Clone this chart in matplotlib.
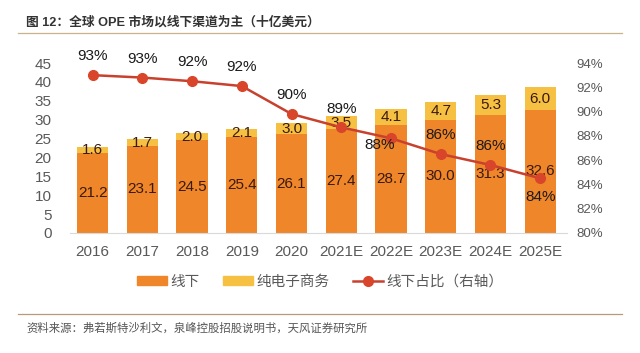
import matplotlib
matplotlib.use("Agg")
import matplotlib.pyplot as plt
from matplotlib.lines import Line2D
from matplotlib.patches import Patch

plt.rcParams['font.family'] = ['Liberation Sans', 'Noto Sans CJK SC', 'DejaVu Sans']

years = ["2016", "2017", "2018", "2019", "2020", "2021E", "2022E", "2023E", "2024E", "2025E"]
offline = [21.2, 23.1, 24.5, 25.4, 26.1, 27.4, 28.7, 30.0, 31.3, 32.6]
ecommerce = [1.6, 1.7, 2.0, 2.1, 3.0, 3.5, 4.1, 4.7, 5.3, 6.0]
share = [93.0, 92.8, 92.5, 92.1, 89.8, 88.7, 87.8, 86.5, 85.6, 84.5]
share_labels = ["93%", "93%", "92%", "92%", "90%", "89%", "88%", "86%", "86%", "84%"]

c_off = "#F0862A"
c_ec = "#F6C143"
c_line = "#C8412E"
c_mark = "#D9452B"
c_txt = "#3A1A10"
c_tick = "#595959"

fig = plt.figure(figsize=(6.4, 3.53), dpi=100)
ax = fig.add_axes([0.109, 0.34, 0.777, 0.4815])
x = list(range(len(years)))
ax.bar(x, offline, width=0.63, color=c_off, zorder=2)
ax.bar(x, ecommerce, width=0.63, bottom=offline, color=c_ec, zorder=2)
ax.set_ylim(0, 45)
ax.set_yticks(range(0, 46, 5))
ax.set_xlim(-0.46, 9.54)
ax.set_xticks(x)
ax.set_xticklabels(years)
for s in ["top", "right", "left"]:
    ax.spines[s].set_visible(False)
ax.spines["bottom"].set_color("#d9d9d9")
ax.tick_params(axis="both", length=0, colors=c_tick, labelsize=11)
ax.tick_params(axis="x", pad=9)
ax.tick_params(axis="y", pad=13)

for i in x:
    ax.text(i, offline[i] / 2, f"{offline[i]:.1f}", ha="center", va="center",
            fontsize=11, color=c_txt, zorder=5)
    ax.text(i, offline[i] + ecommerce[i] / 2, f"{ecommerce[i]:.1f}", ha="center",
            va="center", fontsize=11, color=c_txt, zorder=5)

ax2 = ax.twinx()
ax2.plot(x, share, color=c_line, lw=1.8, marker="o", ms=7, mfc=c_mark, mec=c_mark, zorder=4)
ax2.set_ylim(80, 94)
ax2.set_yticks(range(80, 95, 2))
ax2.set_yticklabels([f"{v}%" for v in range(80, 95, 2)])
for s in ["top", "right", "left", "bottom"]:
    ax2.spines[s].set_visible(False)
ax2.tick_params(axis="y", length=0, colors=c_tick, labelsize=9.5, pad=7)

offsets = [(0, 13.5), (0, 13.5), (0, 13.5), (0, 13.5), (0, 13.5), (0, 13.5),
           (-8.5, -5), (0, 13.5), (0, 13.5), (0, -13.5)]
for i in x:
    dx, dy = offsets[i]
    ax2.annotate(share_labels[i], (i, share[i]), xytext=(dx, dy), textcoords="offset points",
                 ha="center", va="center", fontsize=11, color="#1a1a1a", zorder=6)

fig.text(0.041, 0.938, "图 12：全球 OPE 市场以线下渠道为主（十亿美元）", fontsize=9.2,
         fontweight="bold", color="#333333", ha="left", va="center")
fig.add_artist(Line2D([0.028, 0.972], [0.906, 0.906], color="#C9B48A", lw=0.9))
fig.add_artist(Line2D([0.028, 0.972], [0.111, 0.111], color="#B89A78", lw=0.9))
fig.text(0.041, 0.071, "资料来源：弗若斯特沙利文，泉峰控股招股说明书，天风证券研究所", fontsize=8.2,
         color="#555555", ha="left", va="center")

handles = [Patch(color=c_off), Patch(color=c_ec),
           Line2D([], [], color=c_line, lw=1.8, marker="o", ms=7, mfc=c_mark, mec=c_mark)]
fig.legend(handles, ["线下", "纯电子商务", "线下占比（右轴）"], loc="center",
           bbox_to_anchor=(0.5, 0.201), ncol=3, frameon=False, fontsize=10.5,
           labelcolor=c_tick, handlelength=2.1, handleheight=0.55, columnspacing=1.6,
           handletextpad=0.2)

fig.savefig("out.png", dpi=100)
